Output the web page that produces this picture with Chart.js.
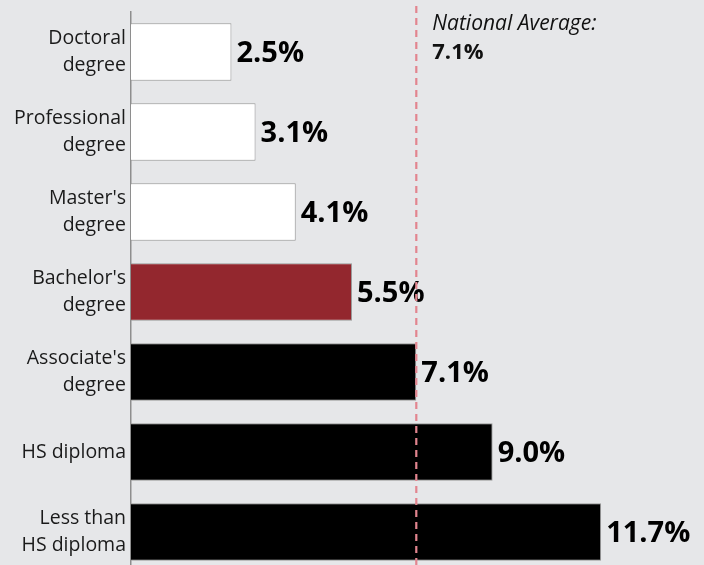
<!DOCTYPE html>
<html><head><meta charset="utf-8">
<script src="https://cdn.jsdelivr.net/npm/chart.js@4"></script>
<style>
html,body{margin:0;padding:0;background:#e6e7e9;overflow:hidden;width:704px;height:565px;}
#wrap{position:absolute;left:0;top:0;width:704px;height:580px;}
</style></head><body>
<div id="wrap"><canvas id="c" width="704" height="580"></canvas></div>
<script>
const categories = [["Doctoral","degree"],["Professional","degree"],["Master's","degree"],["Bachelor's","degree"],["Associate's","degree"],["HS diploma"],["Less than","HS diploma"]];
const values = [2.5, 3.1, 4.1, 5.5, 7.1, 9.0, 11.7];
const valueLabels = ["2.5%","3.1%","4.1%","5.5%","7.1%","9.0%","11.7%"];
const barColors = ["#ffffff","#ffffff","#ffffff","#93272e","#000000","#000000","#000000"];
const nationalAverage = 7.1;
const averageTitle = "National Average:";
const averageLabel = "7.1%";

const FONT = "'Open Sans', sans-serif";

const overlay = {
  id:'overlay',
  afterDatasetsDraw(chart){
    const ctx = chart.ctx, xs = chart.scales.x, meta = chart.getDatasetMeta(0);
    ctx.save();
    ctx.fillStyle = '#000';
    ctx.font = "bold 29px " + FONT;
    ctx.textAlign = 'left'; ctx.textBaseline = 'middle';
    meta.data.forEach((bar,i)=>{
      ctx.fillText(valueLabels[i], bar.x + 5, bar.y + 1.5);
    });
    const ax = xs.getPixelForValue(nationalAverage);
    ctx.strokeStyle = '#e2858f';
    ctx.lineWidth = 2.2;
    ctx.setLineDash([7,5]);
    ctx.beginPath();
    ctx.moveTo(ax, 6);
    ctx.lineTo(ax, chart.height);
    ctx.stroke();
    ctx.setLineDash([]);
    ctx.fillStyle = '#111';
    ctx.textBaseline = 'alphabetic';
    ctx.font = "italic 21px " + FONT;
    ctx.fillText(averageTitle, ax + 16, 30);
    ctx.font = "bold 22px " + FONT;
    ctx.fillText(averageLabel, ax + 16, 59);
    ctx.restore();
  }
};

new Chart(document.getElementById('c'), {
  type:'bar',
  data:{labels:categories, datasets:[{data:values, backgroundColor:barColors, borderColor:'#9b9b9b', borderWidth:1, categoryPercentage:0.72, barPercentage:1}]},
  options:{
    indexAxis:'y', responsive:false, animation:false,
    layout:{padding:{top:12,bottom:8,left:0,right:0}},
    plugins:{legend:{display:false}, tooltip:{enabled:false}},
    scales:{
      x:{display:false, min:0, max:14.26},
      y:{
        grid:{display:false, drawTicks:false},
        border:{display:true, color:'#8e8e8e', width:1.5},
        ticks:{color:'#1a1a1a', font:{family:FONT, size:19.5, lineHeight:1.42}, padding:5},
        afterFit(s){ s.width = 131; s.paddingTop = 0; s.paddingBottom = 0; }
      }
    }
  },
  plugins:[overlay]
});
</script>
</body></html>
